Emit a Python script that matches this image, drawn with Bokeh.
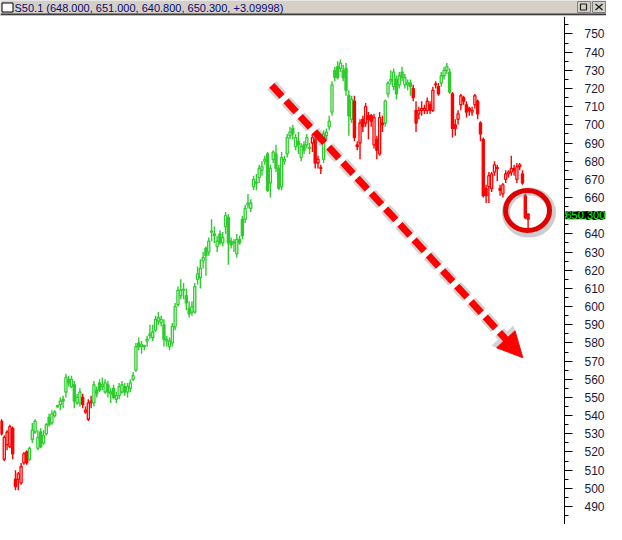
from bokeh.plotting import figure
from bokeh.models import Range1d, SingleIntervalTicker, Arrow, NormalHead, Label, ColumnDataSource
from bokeh.layouts import column
from bokeh.embed import file_html
from bokeh.resources import INLINE
from bokeh.core.properties import value

# ---------------- data ----------------
title_text = "S50.1 (648.000, 651.000, 640.800, 650.300, +3.09998)"
last_price_text = "650.300"
last_price = 650.3

opens = [537, 516, 524, 523, 533, 505, 505, 503, 514, 520,
         516, 527, 531, 522, 531, 525, 530, 539, 536, 540,
         545, 546, 549, 553, 560, 556, 557, 547, 547, 550,
         542, 538, 547, 547, 554, 558, 556, 553, 557, 552,
         555, 549, 551, 553, 556, 553, 555, 560, 565, 580,
         578, 578, 581, 584, 583, 587, 592, 591, 590, 581,
         578, 580, 589, 601, 606, 609, 606, 599, 597, 597,
         615, 616, 625, 632, 630, 641, 640, 633, 640, 635,
         644, 649, 636, 635, 629, 637, 648, 648, 656, 654,
         666, 668, 671, 675, 680, 684, 668, 681, 684, 676,
         666, 680, 684, 694, 698, 688, 691, 682, 689, 689,
         687, 690, 692, 679, 676, 681, 694, 699, 707, 730,
         732, 731, 730, 731, 716, 703, 713, 689, 690, 703,
         701, 705, 705, 689, 692, 684, 701, 701, 717, 724,
         721, 725, 722, 729, 722, 722, 723, 720, 708, 706,
         708, 708, 708, 711, 708, 722, 721, 723, 727, 730,
         729, 717, 700, 703, 711, 715, 711, 709, 707, 711,
         713, 701, 692, 665, 666, 665, 674, 676, 665, 662,
         670, 673, 674, 676, 670, 677, 673, 661, 651]
highs = [538, 529, 532, 535, 534, 510, 509, 514, 520, 521,
         523, 536, 538, 532, 533, 532, 536, 541, 543, 543,
         546, 550, 551, 563, 562, 562, 559, 552, 555, 552,
         545, 549, 551, 559, 556, 560, 561, 560, 559, 555,
         557, 553, 558, 559, 558, 558, 560, 564, 580, 583,
         581, 579, 584, 590, 590, 595, 597, 595, 593, 584,
         583, 591, 602, 611, 615, 613, 610, 603, 603, 613,
         622, 626, 630, 633, 638, 648, 644, 639, 642, 641,
         652, 651, 638, 637, 640, 639, 650, 656, 662, 659,
         672, 673, 678, 680, 683, 685, 678, 686, 689, 678,
         685, 683, 695, 699, 700, 695, 696, 690, 691, 695,
         690, 695, 694, 683, 678, 697, 698, 705, 724, 732,
         735, 736, 733, 734, 719, 716, 716, 691, 703, 705,
         712, 707, 706, 706, 694, 707, 705, 714, 724, 730,
         731, 727, 729, 732, 728, 725, 725, 722, 713, 710,
         713, 711, 715, 713, 721, 724, 723, 729, 732, 734,
         731, 718, 703, 708, 717, 716, 713, 710, 710, 717,
         714, 702, 693, 667, 674, 674, 680, 678, 667, 668,
         675, 675, 683, 678, 679, 679, 675, 662, 651]
lows = [529, 515, 521, 522, 516, 499, 499, 502, 513, 513,
        515, 525, 530, 521, 522, 524, 529, 534, 535, 539,
        544, 543, 544, 550, 556, 555, 544, 546, 545, 544,
        541, 537, 544, 545, 550, 553, 554, 552, 550, 547,
        549, 547, 549, 552, 551, 550, 553, 559, 564, 576,
        574, 576, 578, 582, 581, 586, 590, 589, 578, 578,
        576, 578, 587, 600, 604, 604, 598, 594, 595, 596,
        612, 610, 621, 617, 628, 636, 635, 630, 634, 633,
        640, 623, 632, 630, 627, 634, 637, 646, 654, 652,
        664, 664, 668, 672, 678, 663, 660, 679, 674, 664,
        664, 678, 682, 692, 692, 686, 684, 680, 684, 687,
        684, 685, 676, 676, 673, 679, 692, 697, 705, 724,
        725, 729, 724, 716, 694, 701, 691, 686, 681, 696,
        699, 692, 699, 687, 681, 683, 696, 699, 715, 722,
        719, 714, 720, 724, 720, 719, 716, 713, 696, 703,
        705, 706, 706, 706, 707, 720, 716, 721, 725, 728,
        717, 693, 694, 700, 708, 711, 704, 705, 705, 709,
        703, 691, 660, 657, 657, 663, 672, 669, 661, 660,
        668, 671, 672, 672, 668, 675, 667, 648, 641]
closes = [530, 528, 531, 534, 519, 501, 508, 512, 519, 514,
          522, 532, 537, 528, 523, 529, 535, 535, 541, 542,
          545.5, 548, 548, 561, 558, 560, 548, 550, 553, 546,
          543, 547, 548, 557, 552, 554, 557, 558, 553, 553,
          550, 551, 556, 557, 553, 556, 558, 562, 578, 578,
          579, 578.5, 582, 585, 586, 593, 594, 593, 582, 582,
          581, 589, 600, 609, 609, 609.5, 602, 596, 600, 611,
          618, 621, 627, 628, 636, 641.5, 639, 636, 635, 638,
          650, 635, 634, 635.5, 637, 635, 639, 654, 657, 657,
          670, 668.5, 676, 677, 681, 664, 676, 685, 676, 665,
          682, 681, 693, 696, 695, 693, 689, 688, 686, 693,
          687.5, 693, 679, 681, 676.5, 695, 696, 702, 722, 726,
          726, 734, 726, 719, 705, 714, 693, 688, 701, 699,
          710, 703, 702, 704, 686, 704, 700, 713, 723, 725,
          729, 717, 727, 726, 726, 723, 721, 715, 701, 708,
          709, 709, 713, 708, 719, 722.5, 717, 727, 730, 732,
          718, 698, 698, 706, 716, 713, 707, 708, 708, 716,
          706, 695, 661, 661, 672, 673, 678, 676.5, 664, 667,
          673, 674, 676, 675, 677, 678, 668, 649, 648]
# trend colouring of each candle: g = green (up-trend), r = red (down-trend)
trend = (["r"] * 10 + ["g"] * 19 + ["r"] * 4 + ["g"] * 78 + ["r"] * 4 +
         ["g"] * 11 + ["r"] * 11 + ["g"] * 10 + ["r"] * 10 + ["g"] * 4 + ["r"] * 28)

# annotation anchor points (bar index, price)
arrow_start = (96.5, 721.7)
arrow_tip = (186.1, 571.9)
ring_center = (187.8, 652.9)

# ---------------- styling ----------------
GREEN = "#2ecc2e"
RED = "#ff0000"
W, H_HEAD, H_MAIN = 606, 16, 508
X_START, X_AXIS = -0.35, 201.0          # price-axis sits at the right edge of the bars area
PX_PER_BAR = 564 / (X_AXIS - X_START)
X_END = X_START + W / PX_PER_BAR

n = len(closes)
idx = list(range(n))
cols = [GREEN if t == "g" else RED for t in trend]
fills = ["white" if c > o else col for o, c, col in zip(opens, closes, cols)]
src = ColumnDataSource(dict(
    x=idx, high=highs, low=lows,
    top=[max(o, c) for o, c in zip(opens, closes)],
    bottom=[min(o, c) for o, c in zip(opens, closes)],
    color=cols, fill=fills))

# ---------------- header bar ----------------
h = figure(width=W, height=H_HEAD, x_range=Range1d(0, W), y_range=Range1d(H_HEAD, 0),
           x_axis_location=None, y_axis_location=None, toolbar_location=None,
           output_backend="svg", min_border=0, outline_line_color=None,
           background_fill_color="#d4d0c8", border_fill_color="#d4d0c8")
h.grid.visible = False
h.quad(left=[0], right=[W], top=[13], bottom=[15], fill_color="#3c3c3c", line_color=None)
h.quad(left=[0], right=[W], top=[15], bottom=[16], fill_color="white", line_color=None)
h.quad(left=[1.5], right=[12.5], top=[2.5], bottom=[11.5], fill_color="white",
       line_color="black", line_width=1)
h.text(x=[14], y=[7], text=[title_text], text_baseline="middle", text_align="left",
       text_font=value("Liberation Sans"), text_font_size="11px", text_color="#0a0a6e")
for bx in (W - 29, W - 14):
    h.quad(left=[bx], right=[bx + 13], top=[1], bottom=[12], fill_color="#d4d0c8",
           line_color="#808080", line_width=1)
h.quad(left=[W - 26], right=[W - 20], top=[3.5], bottom=[9.5], fill_color=None,
       line_color="#202020", line_width=1.2)
h.segment(x0=[W - 11, W - 11], y0=[3.5, 9.5], x1=[W - 4, W - 4], y1=[9.5, 3.5],
          line_color="#202020", line_width=1.3)

# ---------------- main chart ----------------
p = figure(width=W, height=H_MAIN, x_range=Range1d(X_START, X_END), y_range=Range1d(480.1, 759.6),
           y_axis_location="right", x_axis_location=None, toolbar_location=None,
           output_backend="svg", min_border=0, outline_line_color=None,
           background_fill_color="white", border_fill_color="white")
p.grid.visible = False

yax = p.yaxis[0]
yax.fixed_location = X_AXIS
yax.ticker = SingleIntervalTicker(interval=10, num_minor_ticks=2)
yax.axis_line_color = "black"
yax.major_tick_line_color = "black"
yax.minor_tick_line_color = "black"
yax.major_tick_in = 0
yax.major_tick_out = 8
yax.minor_tick_in = 0
yax.minor_tick_out = 4
yax.major_label_standoff = 12
yax.major_label_text_font = "Liberation Sans"
yax.major_label_text_font_size = "12px"
yax.major_label_text_color = "#1a1a40"

p.segment(x0="x", y0="high", x1="x", y1="low", color="color", line_width=1.4, source=src)
p.vbar(x="x", width=0.75, top="top", bottom="bottom", fill_color="fill",
       line_color="color", line_width=1.3, source=src)

# shadowed dashed trend arrow
p.add_layout(Arrow(x_start=arrow_start[0], y_start=arrow_start[1],
                   x_end=arrow_tip[0], y_end=arrow_tip[1],
                   line_color="#808080", line_alpha=0.35, line_width=12, line_dash="15 6",
                   end=NormalHead(size=30, fill_color="#808080", fill_alpha=0.35,
                                  line_color=None)))
p.add_layout(Arrow(x_start=arrow_start[0], y_start=arrow_start[1],
                   x_end=arrow_tip[0], y_end=arrow_tip[1],
                   line_color=RED, line_width=7, line_dash="15 6",
                   end=NormalHead(size=25, fill_color=RED, line_color=RED, line_width=1)))

# ring around the last bar
p.ellipse(x=[ring_center[0] + 0.5], y=[ring_center[1] - 1.2], width=46, height=42,
          width_units="screen", height_units="screen", fill_color=None,
          line_color="#909090", line_alpha=0.45, line_width=8)
p.ellipse(x=[ring_center[0]], y=[ring_center[1]], width=44, height=40,
          width_units="screen", height_units="screen", fill_color=None,
          line_color="#e00000", line_width=5)

# last price tag on the axis
p.add_layout(Label(x=X_AXIS, y=last_price, text=last_price_text, x_offset=1,
                   text_baseline="middle", text_align="left",
                   text_font="Liberation Sans", text_font_size="11px",
                   text_color="#00ff00", background_fill_color="black"))

layout = column(h, p, spacing=0)
open("out.html", "w").write(file_html(layout, INLINE))
